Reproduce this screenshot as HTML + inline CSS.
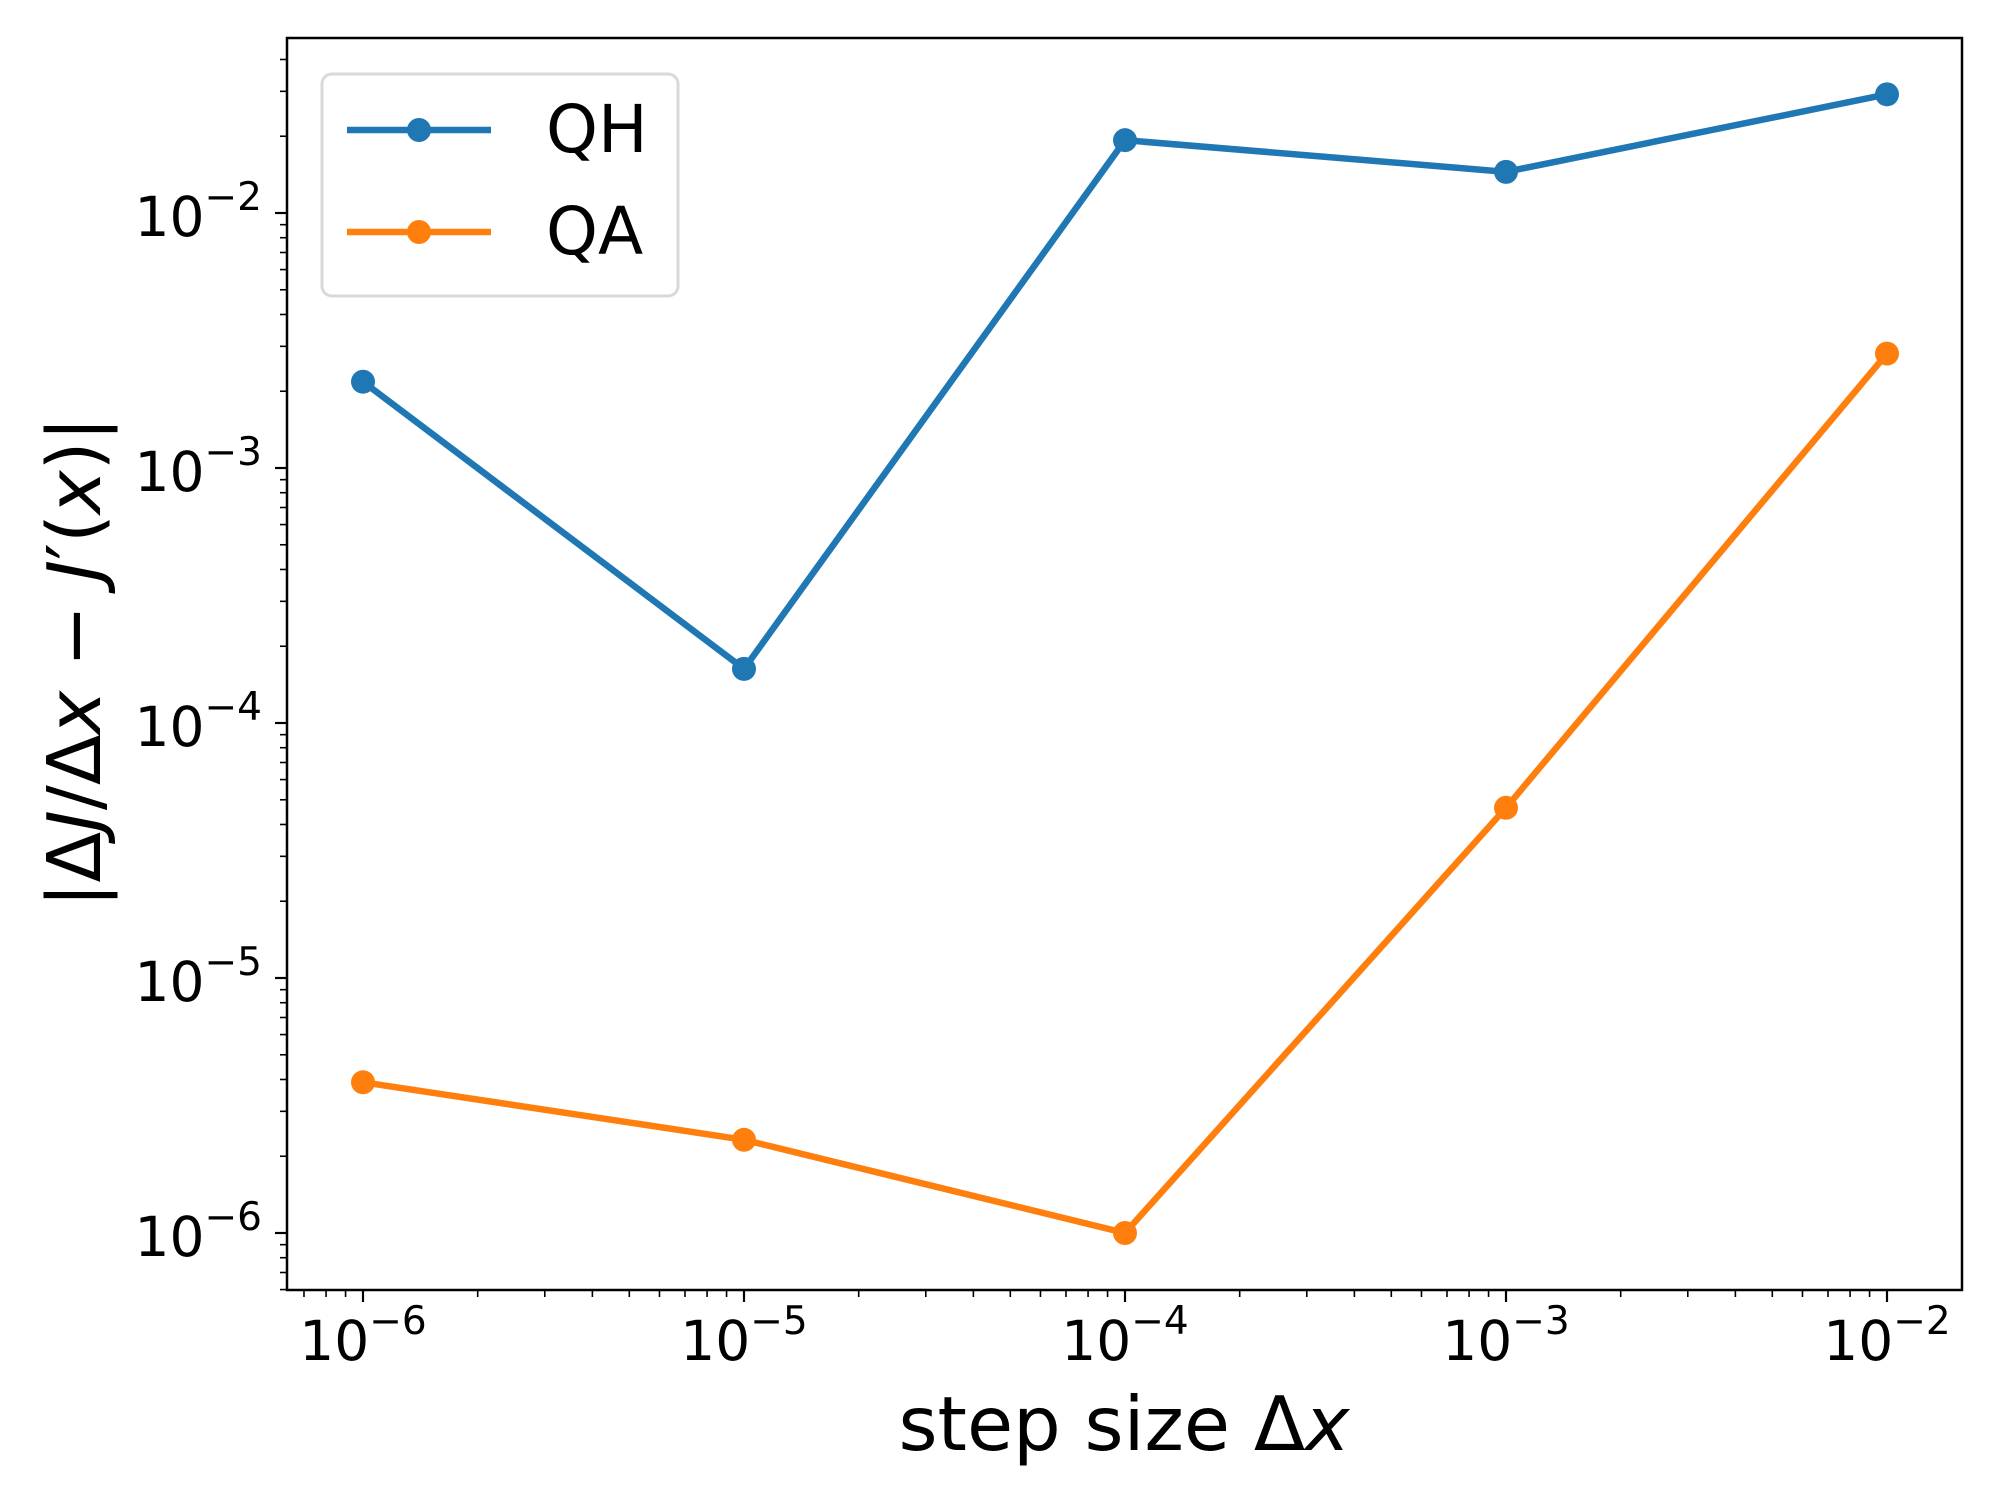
<!DOCTYPE html>
<html><head><meta charset="utf-8"><style>
body{margin:0;background:#fff}
svg{display:block;font-family:"DejaVu Sans","Liberation Sans",sans-serif}
</style></head><body>
<svg id="chart" width="2000" height="1500" viewBox="0 0 2000 1500" xmlns="http://www.w3.org/2000/svg">
<rect width="2000" height="1500" fill="#fff"/>
<g id="marks"></g>
<g id="axes"></g>
<text x="1124" y="1450" font-size="75" text-anchor="middle">step size Δ<tspan font-style="italic">x</tspan></text>
<text transform="translate(100,662) rotate(-90)" font-size="74" text-anchor="middle">|Δ<tspan font-style="italic">J</tspan>/Δ<tspan font-style="italic">x</tspan> − <tspan font-style="italic">J</tspan>′(<tspan font-style="italic">x</tspan>)|</text>
<g>
<rect x="322" y="74" width="356" height="222" rx="10" fill="#fff" stroke="#d9d9d9" stroke-width="3"/>
<g>
<line x1="347" y1="130" x2="491" y2="130" stroke="#1f77b4" stroke-width="6.5"/>
<circle cx="419" cy="130" r="12" fill="#1f77b4"/>
<text x="546" y="152" font-size="66">QH</text>
</g>
<g>
<line x1="347" y1="232" x2="491" y2="232" stroke="#ff7f0e" stroke-width="6.5"/>
<circle cx="419" cy="232" r="12" fill="#ff7f0e"/>
<text x="546" y="254" font-size="66">QA</text>
</g>
</g>
</svg>
<script>
const xValues = [1e-6, 1e-5, 1e-4, 1e-3, 1e-2];
const qhValues = [2.18e-3, 1.63e-4, 1.93e-2, 1.45e-2, 2.92e-2];
const qaValues = [3.9e-6, 2.32e-6, 1.0e-6, 4.65e-5, 2.81e-3];
const xTickExps = [-6, -5, -4, -3, -2];
const yTickExps = [-6, -5, -4, -3, -2];

const NS = "http://www.w3.org/2000/svg";
const L = 287, R = 1962, T = 38, B = 1290;
function sx(v){ return 363 + (Math.log10(v) + 6) * 381; }
function sy(v){ return 1233 - (Math.log10(v) + 6) * 255; }
function mk(tag, attrs, parent){
  const e = document.createElementNS(NS, tag);
  for (const k in attrs) e.setAttribute(k, attrs[k]);
  parent.appendChild(e); return e;
}
const axes = document.getElementById('axes');
const marks = document.getElementById('marks');

for (let e = -7; e <= -2; e++) {
  for (let m = 1; m <= 9; m++) {
    const v = m * Math.pow(10, e);
    const x = sx(v);
    if (x < L || x > R) continue;
    const major = m === 1;
    const t = mk('line', {x1:x, x2:x, y1:B, y2:B + (major ? 12 : 7), stroke:'#000', 'stroke-width': major ? 2.2 : 1.6}, axes);
    
    
  }
}
xTickExps.forEach(e => {
  const x = sx(Math.pow(10, e));
  const t = mk('text', {x:x, y:1360, 'font-size':55, 'text-anchor':'middle'}, axes);
  
  
  t.innerHTML = '10<tspan font-size="39" dy="-26">−' + (-e) + '</tspan>';
});
for (let e = -7; e <= -1; e++) {
  for (let m = 1; m <= 9; m++) {
    const v = m * Math.pow(10, e);
    const y = sy(v);
    if (y < T || y > B) continue;
    const major = m === 1;
    const t = mk('line', {x1:L, x2:L - (major ? 12 : 7), y1:y, y2:y, stroke:'#000', 'stroke-width': major ? 2.2 : 1.6}, axes);
    
    
  }
}
yTickExps.forEach(e => {
  const y = sy(Math.pow(10, e));
  const t = mk('text', {x:262, y:y + 23, 'font-size':55, 'text-anchor':'end'}, axes);
  
  
  t.innerHTML = '10<tspan font-size="39" dy="-26">−' + (-e) + '</tspan>';
});
const frame = mk('rect', {x:L, y:T, width:R - L, height:B - T, fill:'none', stroke:'#000', 'stroke-width':2.5}, axes);



function series(vals, color, name){
  const pts = xValues.map((x, i) => sx(x) + ',' + sy(vals[i])).join(' ');
  const pl = mk('polyline', {points:pts, fill:'none', stroke:color, 'stroke-width':6.5, 'stroke-linejoin':'round'}, marks);
  
  
  xValues.forEach((x, i) => {
    const c = mk('circle', {cx:sx(x), cy:sy(vals[i]), r:12, fill:color}, marks);
    
    
  });
}
series(qhValues, '#1f77b4', 'qh');
series(qaValues, '#ff7f0e', 'qa');
</script>
</body></html>
